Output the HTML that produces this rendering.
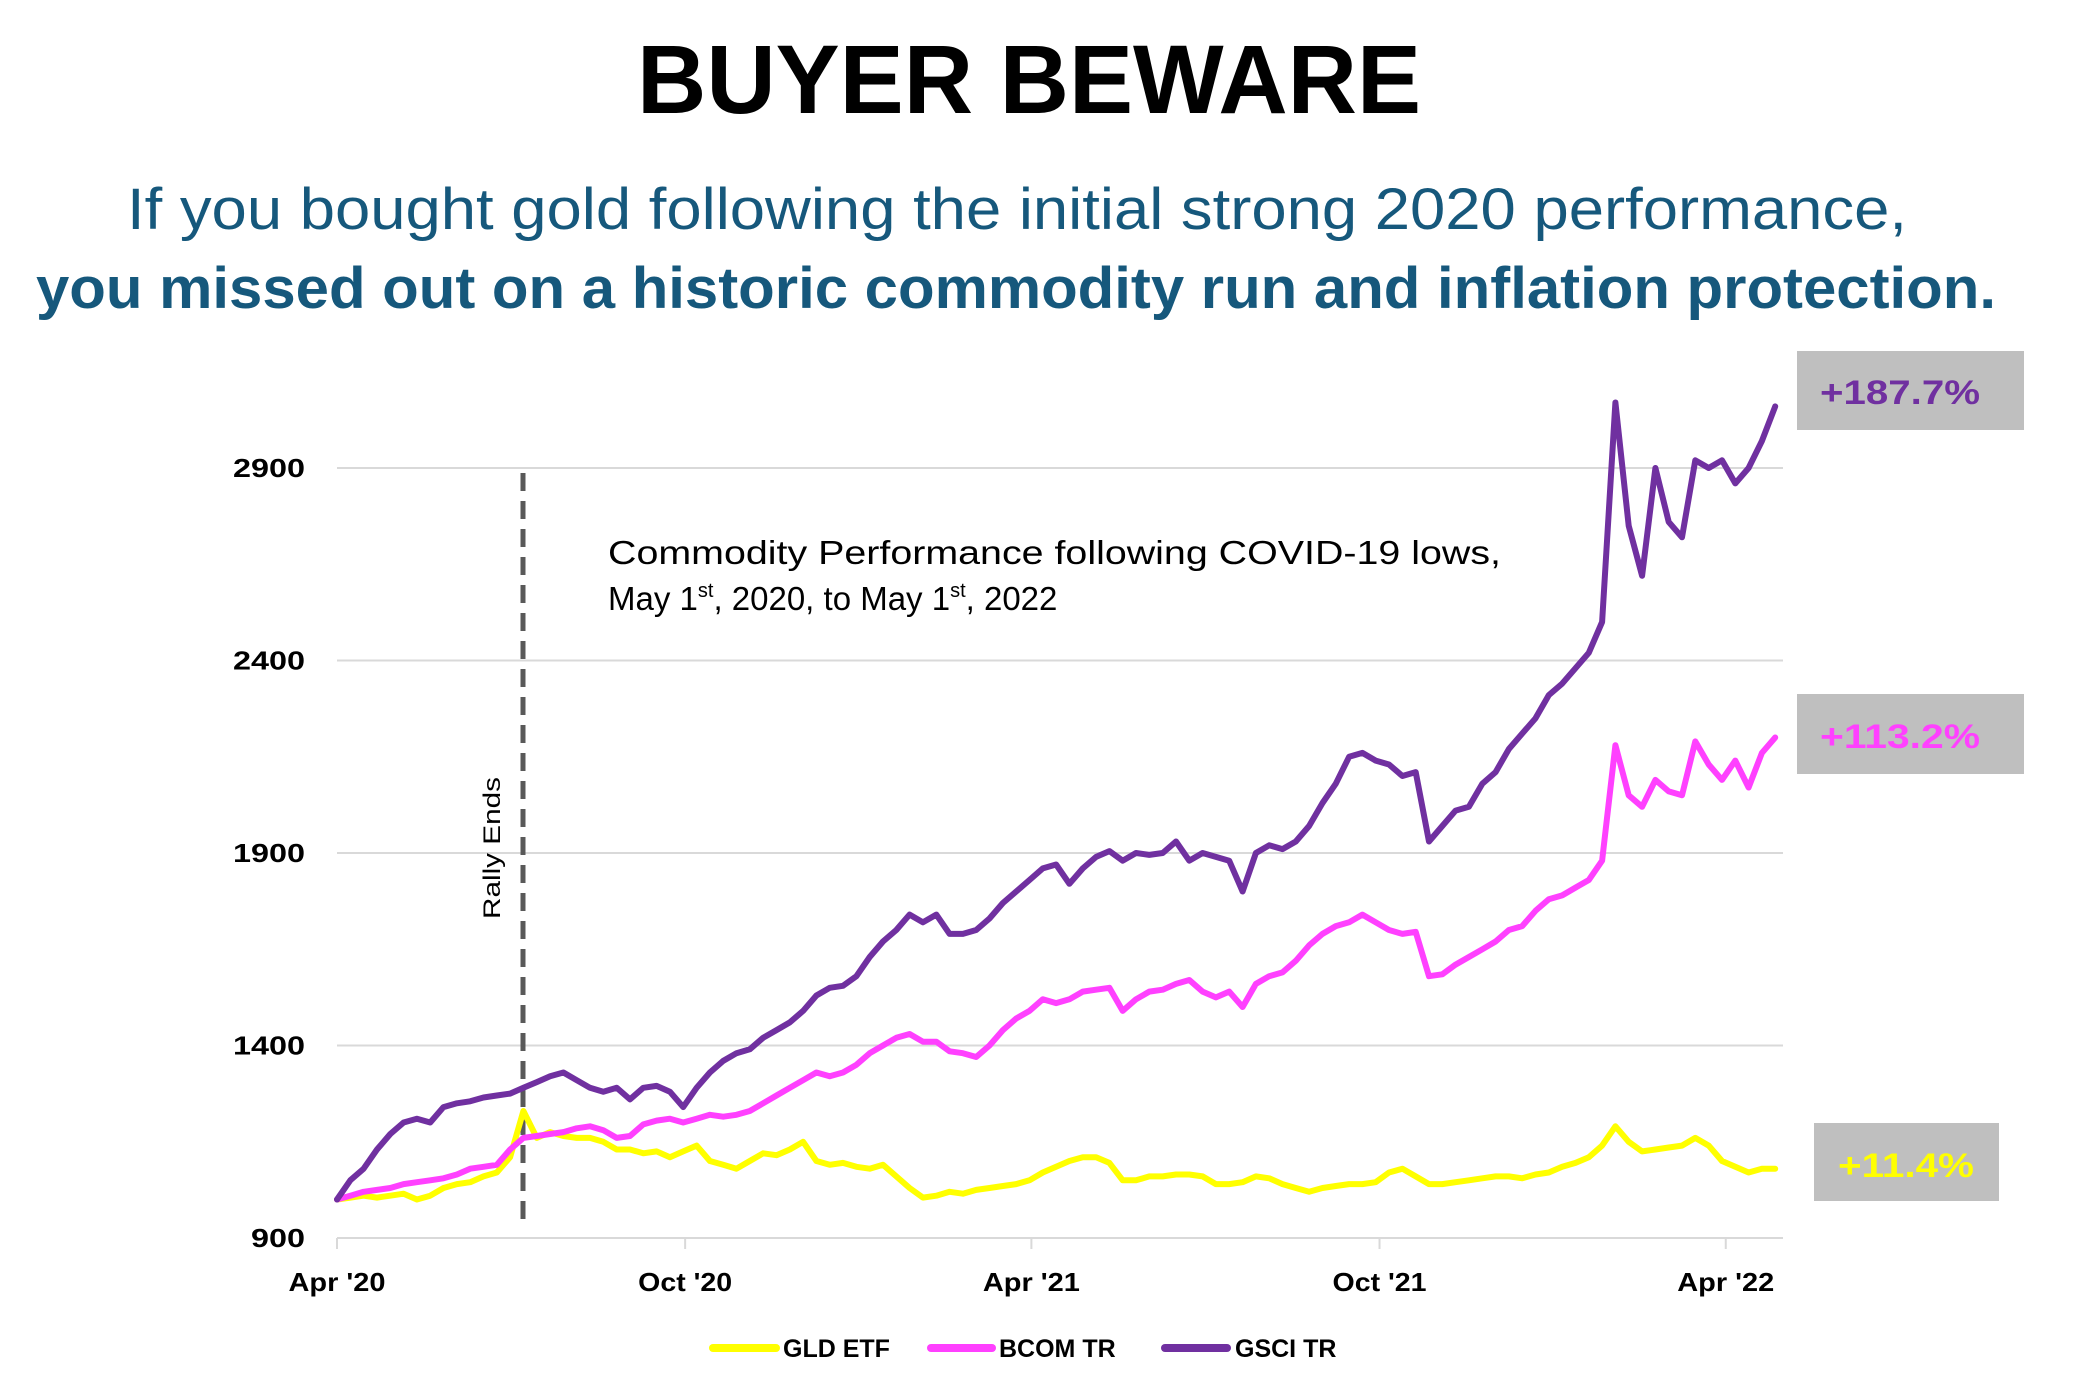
<!DOCTYPE html>
<html>
<head>
<meta charset="utf-8">
<style>
  html,body{margin:0;padding:0;background:#fff;}
  svg{display:block;}
  text{font-family:"Liberation Sans",sans-serif;}
</style>
</head>
<body>
<svg id="chart" width="2077" height="1381" viewBox="0 0 2077 1381" xmlns="http://www.w3.org/2000/svg">
  <rect x="0" y="0" width="2077" height="1381" fill="#ffffff"/>
  <text x="1029" y="113" text-anchor="middle" font-size="97" font-weight="bold" fill="#000" textLength="784" lengthAdjust="spacingAndGlyphs">BUYER BEWARE</text>
  <text x="127" y="229" font-size="58" fill="#16587c" textLength="1780" lengthAdjust="spacingAndGlyphs">If you bought gold following the initial strong 2020 performance,</text>
  <text x="36" y="308" font-size="58" font-weight="bold" fill="#16587c" textLength="1960" lengthAdjust="spacingAndGlyphs">you missed out on a historic commodity run and inflation protection.</text>

  <g id="grid"></g>
  <g id="yaxis"></g>
  <g id="xaxis"></g>

  <line x1="523" y1="473" x2="523" y2="1227" stroke="#595959" stroke-width="5" stroke-dasharray="18 10"/>
  <text transform="translate(500,848) rotate(-90)" text-anchor="middle" font-size="24" fill="#000" textLength="142" lengthAdjust="spacingAndGlyphs">Rally Ends</text>

  <text x="608" y="564" font-size="33" fill="#000" textLength="893" lengthAdjust="spacingAndGlyphs">Commodity Performance following COVID-19 lows,</text>
  <text x="608" y="610" font-size="33" fill="#000">May 1<tspan font-size="20" dy="-13">st</tspan><tspan dy="13">, 2020, to May 1</tspan><tspan font-size="20" dy="-13">st</tspan><tspan dy="13">, 2022</tspan></text>

  <g id="series"></g>

  <rect x="1797" y="351" width="227" height="79" fill="#bfbfbf"/>
  <text x="1900" y="404" text-anchor="middle" font-size="34" font-weight="bold" fill="#7030a0" textLength="160" lengthAdjust="spacingAndGlyphs">+187.7%</text>
  <rect x="1797" y="694" width="227" height="80" fill="#bfbfbf"/>
  <text x="1900" y="748" text-anchor="middle" font-size="34" font-weight="bold" fill="#ff40ff" textLength="160" lengthAdjust="spacingAndGlyphs">+113.2%</text>
  <rect x="1814" y="1123" width="185" height="78" fill="#bfbfbf"/>
  <text x="1906" y="1177" text-anchor="middle" font-size="34" font-weight="bold" fill="#ffff00" textLength="136" lengthAdjust="spacingAndGlyphs">+11.4%</text>

  <g>
    <g>
      <line x1="713" y1="1348" x2="776" y2="1348" stroke="#ffff00" stroke-width="8" stroke-linecap="round"/>
      <text x="783" y="1357" font-size="25" font-weight="bold" fill="#000">GLD ETF</text>
    </g>
    <g>
      <line x1="931" y1="1348" x2="992" y2="1348" stroke="#ff40ff" stroke-width="8" stroke-linecap="round"/>
      <text x="999" y="1357" font-size="25" font-weight="bold" fill="#000">BCOM TR</text>
    </g>
    <g>
      <line x1="1165" y1="1348" x2="1227" y2="1348" stroke="#7030a0" stroke-width="8" stroke-linecap="round"/>
      <text x="1235" y="1357" font-size="25" font-weight="bold" fill="#000">GSCI TR</text>
    </g>
  </g>
</svg>
<script>
// Weekly observations starting Apr 1 2020
const startDate = "2020-04-01";
const yTicks = [900, 1400, 1900, 2400, 2900];
const xTickLabels = ["Apr '20", "Oct '20", "Apr '21", "Oct '21", "Apr '22"];
const xTickDates = ["2020-04-01", "2020-10-01", "2021-04-01", "2021-10-01", "2022-04-01"];
const gsci = [1000,1050,1080,1130,1170,1200,1210,1200,1240,1250,
  1255,1265,1270,1275,1290,1305,1320,1330,1310,1290,
  1280,1290,1260,1290,1295,1280,1240,1290,1330,1360,
  1380,1390,1420,1440,1460,1490,1530,1550,1555,1580,
  1630,1670,1700,1740,1720,1740,1690,1690,1700,1730,
  1770,1800,1830,1860,1870,1820,1860,1890,1905,1880,
  1900,1895,1900,1930,1880,1900,1890,1880,1800,1900,
  1920,1910,1930,1970,2030,2080,2150,2160,2140,2130,
  2100,2110,1930,1970,2010,2020,2080,2110,2170,2210,
  2250,2310,2340,2380,2420,2500,3070,2750,2620,2900,
  2760,2720,2920,2900,2920,2860,2900,2970,3060];
const bcom = [1000,1010,1020,1025,1030,1040,1045,1050,1055,1065,
  1080,1085,1090,1130,1160,1165,1170,1175,1185,1190,
  1180,1160,1165,1195,1205,1210,1200,1210,1220,1215,
  1220,1230,1250,1270,1290,1310,1330,1320,1330,1350,
  1380,1400,1420,1430,1410,1410,1385,1380,1370,1400,
  1440,1470,1490,1520,1510,1520,1540,1545,1550,1490,
  1520,1540,1545,1560,1570,1540,1525,1540,1500,1560,
  1580,1590,1620,1660,1690,1710,1720,1740,1720,1700,
  1690,1695,1580,1585,1610,1630,1650,1670,1700,1710,
  1750,1780,1790,1810,1830,1880,2180,2050,2020,2090,
  2060,2050,2190,2130,2090,2140,2070,2160,2200];
const gld = [1000,1005,1010,1005,1010,1015,1000,1010,1030,1040,
  1045,1060,1070,1110,1230,1160,1175,1165,1160,1160,
  1150,1130,1130,1120,1125,1110,1125,1140,1100,1090,
  1080,1100,1120,1115,1130,1150,1100,1090,1095,1085,
  1080,1090,1060,1030,1005,1010,1020,1015,1025,1030,
  1035,1040,1050,1070,1085,1100,1110,1110,1095,1050,
  1050,1060,1060,1065,1065,1060,1040,1040,1045,1060,
  1055,1040,1030,1020,1030,1035,1040,1040,1045,1070,
  1080,1060,1040,1040,1045,1050,1055,1060,1060,1055,
  1065,1070,1085,1095,1110,1140,1190,1150,1125,1130,
  1135,1140,1160,1140,1100,1085,1070,1080,1080];

const NS = "http://www.w3.org/2000/svg";
const plotLeft = 337, plotRight = 1783, yTop = 468, yBottom = 1238;
const weekPx = 13.317;
function xScale(week){ return plotLeft + week * weekPx; }
function yScale(v){ return yBottom - (v - 900) * (yBottom - yTop) / 2000; }
function weeksFrom(dateStr){ return (new Date(dateStr) - new Date(startDate)) / (7*86400000); }
function mk(tag, attrs, parent){
  const el = document.createElementNS(NS, tag);
  for (const k in attrs) el.setAttribute(k, attrs[k]);
  parent.appendChild(el);
  return el;
}
const grid = document.getElementById('grid');
const yaxis = document.getElementById('yaxis');
const xaxis = document.getElementById('xaxis');
const seriesG = document.getElementById('series');

yTicks.forEach(function(v){
  const gl = mk('line', {x1: plotLeft, x2: plotRight, y1: yScale(v), y2: yScale(v), stroke: '#d9d9d9', 'stroke-width': 2}, grid);
  
  
  const s = String(v);
  const t = mk('text', {x: 305, y: yScale(v) + 9, 'text-anchor': 'end', 'font-size': 26, 'font-weight': 'bold', fill: '#000', textLength: s.length * 18, lengthAdjust: 'spacingAndGlyphs'}, yaxis);
  t.textContent = s;
  
  
});

xTickDates.forEach(function(d, i){
  const x = xScale(weeksFrom(d));
  const tk = mk('line', {x1: x, x2: x, y1: yBottom, y2: yBottom + 11, stroke: '#d9d9d9', 'stroke-width': 2}, xaxis);
  
  
  const t = mk('text', {x: x, y: 1291, 'text-anchor': 'middle', 'font-size': 26, 'font-weight': 'bold', fill: '#000', textLength: (i % 2 === 0 ? 97 : 94), lengthAdjust: 'spacingAndGlyphs'}, xaxis);
  t.textContent = xTickLabels[i];
  
  
});

function drawSeries(values, color, name){
  const pts = values.map(function(v, i){ return xScale(i).toFixed(1) + ',' + yScale(v).toFixed(1); }).join(' ');
  const pl = mk('polyline', {points: pts, fill: 'none', stroke: color, 'stroke-width': 6, 'stroke-linejoin': 'round', 'stroke-linecap': 'round'}, seriesG);
  
  
}
drawSeries(gld, '#ffff00', 'gld-etf-line');
drawSeries(bcom, '#ff40ff', 'bcom-tr-line');
drawSeries(gsci, '#7030a0', 'gsci-tr-line');
</script>
</body>
</html>
